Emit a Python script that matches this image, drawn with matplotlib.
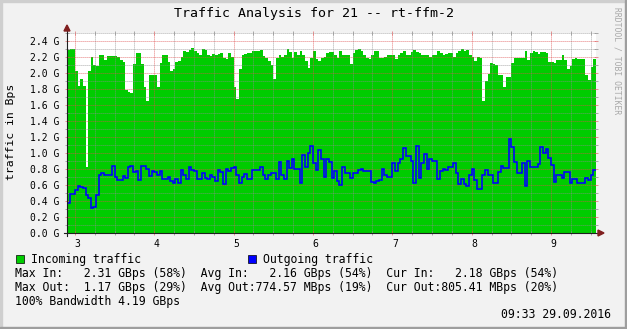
import numpy as np
import matplotlib
matplotlib.use("Agg")
import matplotlib.pyplot as plt
from matplotlib.patches import Rectangle, Polygon
from matplotlib.lines import Line2D
from matplotlib.ticker import FixedLocator, MultipleLocator, FuncFormatter
from matplotlib.transforms import ScaledTranslation

# ---------------- data ----------------
start_hour = 2.9          # 02:54
step_minutes = 2

incoming = [
    2.29,
    2.30, 2.30, 2.02, 1.84, 1.92, 1.84, 0.83, 2.02, 2.20, 2.10,
    2.09, 2.22, 2.22, 2.16, 2.21, 2.21, 2.21, 2.21, 2.20, 2.16,
    2.14, 1.79, 1.76, 1.75, 2.11, 2.25, 2.25, 2.11, 1.82, 1.65,
    1.97, 1.97, 1.97, 1.82, 2.13, 2.22, 2.23, 2.14, 2.03, 2.05,
    2.14, 2.15, 2.20, 2.28, 2.26, 2.29, 2.31, 2.28, 2.25, 2.22,
    2.30, 2.29, 2.22, 2.21, 2.24, 2.22, 2.24, 2.25, 2.19, 2.18,
    2.25, 2.20, 1.83, 1.68, 2.05, 2.22, 2.24, 2.25, 2.25, 2.27,
    2.27, 2.27, 2.29, 2.21, 2.19, 2.15, 2.10, 1.93, 2.19, 2.23,
    2.20, 2.23, 2.30, 2.26, 2.19, 2.26, 2.23, 2.28, 2.23, 2.15,
    2.06, 2.19, 2.28, 2.18, 2.15, 2.19, 2.20, 2.25, 2.26, 2.26,
    2.23, 2.19, 2.28, 2.23, 2.23, 2.23, 2.11, 2.25, 2.29, 2.30,
    2.28, 2.23, 2.19, 2.18, 2.22, 2.27, 2.27, 2.19, 2.19, 2.20,
    2.23, 2.22, 2.22, 2.18, 2.22, 2.25, 2.28, 2.23, 2.23, 2.26,
    2.29, 2.26, 2.25, 2.23, 2.23, 2.23, 2.20, 2.22, 2.22, 2.28,
    2.25, 2.23, 2.24, 2.25, 2.25, 2.20, 2.25, 2.27, 2.30, 2.28,
    2.29, 2.23, 2.20, 2.15, 2.20, 2.19, 1.65, 1.90, 1.99, 2.12,
    2.11, 2.10, 1.98, 1.98, 1.83, 1.95, 1.95, 2.13, 2.19, 2.19,
    2.19, 2.19, 2.28, 2.16, 2.25, 2.28, 2.26, 2.24, 2.26, 2.26,
    2.25, 2.14, 2.14, 2.12, 2.16, 2.16, 2.23, 2.16, 2.05, 2.09,
    2.18, 2.19, 2.18, 2.18, 2.17, 1.98, 1.91, 2.07, 2.18,
]

outgoing = [
    0.37,
    0.49, 0.49, 0.54, 0.59, 0.57, 0.56, 0.48, 0.44, 0.31, 0.33,
    0.48, 0.72, 0.75, 0.73, 0.73, 0.73, 0.84, 0.70, 0.66, 0.66,
    0.71, 0.69, 0.83, 0.84, 0.76, 0.78, 0.66, 0.84, 0.84, 0.80,
    0.71, 0.77, 0.76, 0.73, 0.77, 0.68, 0.68, 0.70, 0.65, 0.62,
    0.68, 0.62, 0.79, 0.72, 0.68, 0.83, 0.79, 0.77, 0.68, 0.68,
    0.75, 0.69, 0.68, 0.72, 0.70, 0.65, 0.79, 0.76, 0.61, 0.80,
    0.77, 0.81, 0.82, 0.72, 0.62, 0.70, 0.74, 0.68, 0.68, 0.79,
    0.79, 0.79, 0.82, 0.72, 0.67, 0.72, 0.75, 0.75, 0.67, 0.89,
    0.73, 0.67, 0.90, 0.81, 0.93, 0.80, 0.80, 0.62, 0.98, 0.83,
    1.00, 1.09, 0.88, 0.79, 1.04, 0.92, 0.70, 0.92, 0.89, 0.69,
    0.77, 0.65, 0.60, 0.83, 0.75, 0.75, 0.69, 0.75, 0.75, 0.79,
    0.80, 0.77, 0.77, 0.77, 0.64, 0.62, 0.65, 0.66, 0.80, 0.73,
    0.70, 0.70, 0.88, 0.77, 0.88, 0.93, 1.06, 0.96, 0.96, 0.90,
    0.62, 1.09, 0.69, 0.87, 0.99, 0.80, 0.93, 0.90, 0.90, 0.68,
    0.77, 0.80, 0.79, 0.83, 0.83, 0.87, 0.75, 0.61, 0.67, 0.61,
    0.59, 0.73, 0.80, 0.66, 0.55, 0.55, 0.72, 0.79, 0.72, 0.72,
    0.63, 0.63, 0.76, 0.84, 0.81, 0.81, 1.17, 1.08, 0.89, 0.75,
    0.75, 0.88, 0.59, 0.90, 0.82, 0.82, 0.82, 0.86, 1.07, 1.00,
    1.05, 0.94, 0.85, 0.64, 0.72, 0.72, 0.69, 0.76, 0.76, 0.62,
    0.67, 0.67, 0.63, 0.63, 0.63, 0.69, 0.66, 0.73, 0.79,
]

y_ticks = [0.0, 0.2, 0.4, 0.6, 0.8, 1.0, 1.2, 1.4, 1.6, 1.8, 2.0, 2.2, 2.4]
x_ticks = [3, 4, 5, 6, 7, 8, 9]
y_max = 2.5

title = "Traffic Analysis for 21 -- rt-ffm-2"
y_label = "traffic in Bps"
series_names = ["Incoming traffic", "Outgoing traffic"]
stats_rows = [
    "Max In:   2.31 GBps (58%)  Avg In:   2.16 GBps (54%)  Cur In:   2.18 GBps (54%)",
    "Max Out:  1.17 GBps (29%)  Avg Out:774.57 MBps (19%)  Cur Out:805.41 MBps (20%)",
    "100% Bandwidth 4.19 GBps",
]
timestamp = "09:33 29.09.2016"
watermark = "RRDTOOL / TOBI OETIKER"

# ---------------- style ----------------
W, H, DPI = 627, 329, 100
MONO = "DejaVu Sans Mono"
BACK = "#f2f2f2"
GREEN = "#00cc00"
BLUE = "#0000ff"
GRID = (0.56, 0.56, 0.56, 0.75)
MGRID = (0.87, 0.31, 0.31, 0.60)
ARROW = (0.50, 0.12, 0.12, 1.0)
AXIS = (0.12, 0.12, 0.12, 1.0)

plt.rcParams["font.family"] = [MONO, "DejaVu Sans"]


def fx(px):
    return px / W


def fy(py):
    return 1 - py / H


fig = plt.figure(figsize=(W / DPI, H / DPI), dpi=DPI, facecolor=BACK)

# frame shading
fig.patches.append(Rectangle((0, fy(2)), 1, 2 / H, transform=fig.transFigure,
                             color="#cfcfcf", zorder=0))
fig.patches.append(Rectangle((0, 0), 2 / W, 1, transform=fig.transFigure,
                             color="#cfcfcf", zorder=0))
fig.patches.append(Rectangle((0, 0), 1, 2 / H, transform=fig.transFigure,
                             color="#9e9e9e", zorder=0))
fig.patches.append(Rectangle((fx(625), 0), 2 / W, 1, transform=fig.transFigure,
                             color="#9e9e9e", zorder=0))

ax = fig.add_axes([fx(67), fy(233), 529 / W, 200 / H])
ax.set_facecolor("white")

n = len(incoming)
edges = start_hour + np.arange(n + 1) * step_minutes / 60.0
ax.stairs(incoming, edges, fill=True, color=GREEN, baseline=0, lw=0, zorder=1)
ax.stairs(outgoing, edges, baseline=None, color=BLUE, lw=1.15, zorder=3)

ax.set_xlim(edges[0], edges[-1])
ax.set_ylim(0, y_max)

ax.xaxis.set_major_locator(FixedLocator(x_ticks))
ax.xaxis.set_minor_locator(MultipleLocator(0.25))
ax.yaxis.set_major_locator(FixedLocator(y_ticks))
ax.yaxis.set_minor_locator(MultipleLocator(0.1))
ax.xaxis.set_major_formatter(FuncFormatter(lambda v, p: f"{int(round(v))}"))
ax.yaxis.set_major_formatter(FuncFormatter(lambda v, p: f"{v:.1f} G"))

ax.set_axisbelow(False)
ax.grid(which="minor", color=GRID, lw=0.6, ls=(0, (1.0, 1.4)))
ax.grid(which="major", color=MGRID, lw=0.6, ls=(0, (1.0, 1.4)))

ax.tick_params(which="both", direction="inout", left=True, right=True,
               top=True, bottom=True, labelright=False, labeltop=False)
ax.tick_params(which="minor", length=3, width=0.7, color=GRID)
ax.tick_params(which="major", length=3, width=0.7, color=MGRID,
               labelsize=7, labelcolor="black")
ax.tick_params(axis="y", which="major", pad=3.9)
ax.tick_params(axis="x", which="major", pad=2.5)
for s in ax.spines.values():
    s.set_visible(False)

# x labels sit slightly right of their grid lines, as in the original
shift = ScaledTranslation(2.5 / DPI, 0, fig.dpi_scale_trans)
for lbl in ax.get_xticklabels():
    lbl.set_transform(lbl.get_transform() + shift)

# axis lines with arrows
fig.lines.append(Line2D([fx(64), fx(600)], [fy(233), fy(233)],
                        transform=fig.transFigure, color=AXIS, lw=0.8, zorder=5))
fig.lines.append(Line2D([fx(67), fx(67)], [fy(236), fy(30)],
                        transform=fig.transFigure, color=AXIS, lw=0.8, zorder=5))
fig.patches.append(Polygon([(fx(598), fy(230)), (fx(604), fy(233)), (fx(598), fy(236))],
                           closed=True, transform=fig.transFigure, color=ARROW, zorder=6))
fig.patches.append(Polygon([(fx(64), fy(31)), (fx(67), fy(25)), (fx(70), fy(31))],
                           closed=True, transform=fig.transFigure, color=ARROW, zorder=6))

# title, label, watermark
fig.text(fx(313.5), fy(14), title, ha="center", va="center", fontsize=9.5)
fig.text(fx(11), fy(132), y_label, ha="center", va="center", rotation=90, fontsize=8.2)
fig.text(fx(617), fy(7), watermark, ha="center", va="top", rotation=-90,
         fontsize=5.8, color="#a8a8a8")

# legend
LFS = 8.3
for (bx, tx), name, col in zip([(16, 31), (248, 263)], series_names, [GREEN, BLUE]):
    fig.patches.append(Rectangle((fx(bx), fy(263)), 8 / W, 8 / H, transform=fig.transFigure,
                                 facecolor=col, edgecolor="black", lw=0.5, zorder=3))
    fig.text(fx(tx), fy(259), name, ha="left", va="center", fontsize=LFS)

for row, yy in zip(stats_rows, [273, 287, 301]):
    fig.text(fx(15), fy(yy), row, ha="left", va="center", fontsize=LFS)
fig.text(fx(611), fy(315), timestamp, ha="right", va="center", fontsize=LFS)

fig.savefig("out.png", dpi=DPI, facecolor=BACK)
